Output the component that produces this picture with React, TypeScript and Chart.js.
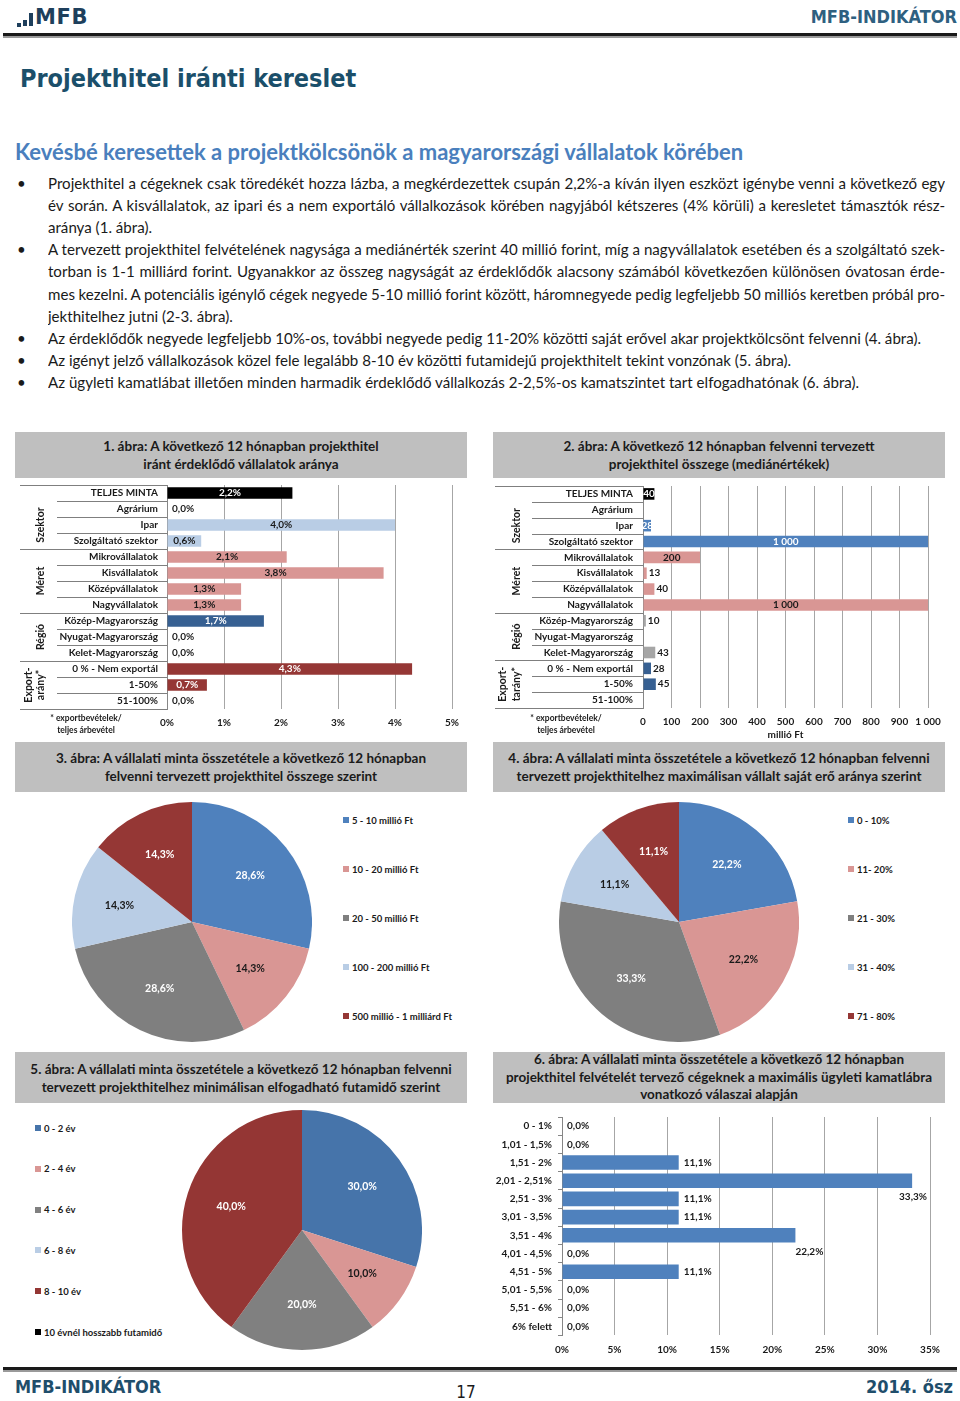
import React, { useEffect, useRef } from 'react';
import { Chart, registerables } from 'chart.js';

Chart.register(...registerables);

const FONT = 'Lato, "Open Sans", "DejaVu Sans", sans-serif';
const HEAD = '"DejaVu Sans Condensed", "DejaVu Sans", sans-serif';
Chart.defaults.font.family = FONT;
Chart.defaults.color = '#1a1a1a';

// ---------------- DATA ----------------
const fig1Categories = ['TELJES MINTA', 'Agrárium', 'Ipar', 'Szolgáltató szektor', 'Mikrovállalatok', 'Kisvállalatok', 'Középvállalatok', 'Nagyvállalatok', 'Közép-Magyarország', 'Nyugat-Magyarország', 'Kelet-Magyarország', '0 % - Nem exportál', '1-50%', '51-100%'];
const fig1Groups = ['total', 'sector', 'sector', 'sector', 'size', 'size', 'size', 'size', 'region', 'region', 'region', 'export', 'export', 'export'];
const fig1Values = [2.2, 0, 4.0, 0.6, 2.1, 3.8, 1.3, 1.3, 1.7, 0, 0, 4.3, 0.7, 0];
const fig1Ticks = [0, 1, 2, 3, 4, 5];
const fig1GroupTitles: Record<string, string[]> = { sector: ['Szektor'], size: ['Méret'], region: ['Régió'], export: ['Export-', 'arány*'] };

const fig2Categories = ['TELJES MINTA', 'Agrárium', 'Ipar', 'Szolgáltató szektor', 'Mikrovállalatok', 'Kisvállalatok', 'Középvállalatok', 'Nagyvállalatok', 'Közép-Magyarország', 'Nyugat-Magyarország', 'Kelet-Magyarország', '0 % - Nem exportál', '1-50%', '51-100%'];
const fig2Groups = ['total', 'sector', 'sector', 'sector', 'size', 'size', 'size', 'size', 'region', 'region', 'region', 'export', 'export', 'export'];
const fig2Values: (number | null)[] = [40, null, 28, 1000, 200, 13, 40, 1000, 10, null, 43, 28, 45, null];
const fig2Ticks = [0, 100, 200, 300, 400, 500, 600, 700, 800, 900, 1000];
const fig2GroupTitles: Record<string, string[]> = { sector: ['Szektor'], size: ['Méret'], region: ['Régió'], export: ['Export-', 'tarány*'] };

const fig3Labels = ['5 - 10 millió Ft', '10 - 20 millió Ft', '20 - 50 millió Ft', '100 - 200 millió Ft', '500 millió - 1 milliárd Ft'];
const fig3Values = [28.6, 14.3, 28.6, 14.3, 14.3];

const fig4Labels = ['0 - 10%', '11- 20%', '21 - 30%', '31 - 40%', '71 - 80%'];
const fig4Values = [22.2, 22.2, 33.3, 11.1, 11.1];

const fig5Labels = ['0 - 2 év', '2 - 4 év', '4 - 6 év', '6 - 8 év', '8 - 10 év', '10 évnél hosszabb futamidő'];
const fig5Values = [30.0, 10.0, 20.0, 0, 40.0, 0];

const fig6Categories = ['0 - 1%', '1,01 - 1,5%', '1,51 - 2%', '2,01 - 2,51%', '2,51 - 3%', '3,01 - 3,5%', '3,51 - 4%', '4,01 - 4,5%', '4,51 - 5%', '5,01 - 5,5%', '5,51 - 6%', '6% felett'];
const fig6Values = [0, 0, 11.1, 33.3, 11.1, 11.1, 22.2, 0, 11.1, 0, 0, 0];
const fig6Ticks = [0, 5, 10, 15, 20, 25, 30, 35];

// ---------------- STYLES ----------------
const fig1Colors: Record<string, string> = { total: '#000000', sector: '#b9cde5', size: '#d99694', region: '#376092', export: '#953735' };
const fig1Inside: Record<string, string> = { total: '#ffffff', sector: '#1a1a1a', size: '#1a1a1a', region: '#ffffff', export: '#ffffff' };
const fig2Colors: Record<string, string> = { total: '#000000', sector: '#4f81bd', size: '#d99694', region: '#a6a6a6', export: '#376092' };
const fig2Inside: Record<string, string> = { total: '#ffffff', sector: '#ffffff', size: '#1a1a1a', region: '#1a1a1a', export: '#ffffff' };
const pieColors = ['#4f81bd', '#d99694', '#7f7f7f', '#b9cde5', '#953735'];
const pieLabelColors = ['#ffffff', '#1a1a1a', '#ffffff', '#1a1a1a', '#ffffff'];
const pie5Colors = ['#4674aa', '#d99694', '#808080', '#b9cde5', '#943634', '#000000'];
const pie5LabelColors = ['#ffffff', '#1a1a1a', '#ffffff', '#1a1a1a', '#ffffff', '#ffffff'];

const fmtPct1 = (v: number) => v.toFixed(1).replace('.', ',') + '%';
const fmtThousands = (v: number) => (v >= 1000 ? `${Math.floor(v / 1000)} ${String(v % 1000).padStart(3, '0')}` : String(v));

type Run = { key: string; from: number; to: number; lines: string[] };
function groupRuns(groups: string[], titles: Record<string, string[]>): Run[] {
  const runs: Run[] = [];
  let start = 0;
  for (let i = 1; i <= groups.length; i++) {
    if (i === groups.length || groups[i] !== groups[start]) {
      runs.push({ key: groups[start], from: start, to: i - 1, lines: titles[groups[start]] || [] });
      start = i;
    }
  }
  return runs;
}

type Box = { left: number; top: number; width: number; height: number };
type Plot = { left: number; right: number; top: number; bottom: number };
type Mode = 'center' | 'outside' | 'zero' | 'below';
type TableSpec = { groupLeft: number; rowLeft: number; groupX: number; lineGap: number; runs: Run[] };

type HBarProps = {
  labels: string[];
  values: (number | null)[];
  colors: string[];
  insideColors: string[];
  ticks: number[];
  tickFmt: (v: number) => string;
  valueFmt: (v: number) => string;
  labelMode: (i: number, v: number, fits: boolean) => Mode;
  outsideGap: number;
  box: Box;
  plot: Plot;
  xAxisHeight: number;
  tickPad: number;
  labelPad: number;
  barPct: number;
  table?: TableSpec;
  xTitle?: string;
  catTicks?: boolean;
};

function HBar(p: HBarProps) {
  const ref = useRef<HTMLCanvasElement>(null);
  useEffect(() => {
    const { box, plot } = p;
    const padB = box.height - plot.bottom - p.xAxisHeight;
    const valuePlugin = {
      id: 'valueLabels',
      afterDatasetsDraw(chart: any) {
        const ctx = chart.ctx;
        const meta = chart.getDatasetMeta(0);
        const area = chart.chartArea;
        ctx.save();
        ctx.font = `bold 10px ${FONT}`;
        ctx.textBaseline = 'middle';
        meta.data.forEach((el: any, i: number) => {
          const v = p.values[i];
          if (v == null) return;
          const text = p.valueFmt(v);
          const w = ctx.measureText(text).width;
          const start = el.base;
          const end = el.x;
          const y = el.y;
          const mode = p.labelMode(i, v, end - start > w + 6);
          if (mode === 'center') {
            ctx.fillStyle = p.insideColors[i];
            ctx.textAlign = 'center';
            ctx.fillText(text, (start + end) / 2, y);
          } else if (mode === 'zero') {
            ctx.fillStyle = '#1a1a1a';
            ctx.textAlign = 'left';
            ctx.fillText(text, start + 5, y);
          } else if (mode === 'outside') {
            ctx.fillStyle = '#1a1a1a';
            ctx.textAlign = 'left';
            ctx.fillText(text, end + p.outsideGap, y);
          } else {
            ctx.fillStyle = '#1a1a1a';
            ctx.textAlign = 'left';
            ctx.fillText(text, Math.min(end, area.right - 3 - w), y + 16);
          }
        });
        ctx.restore();
      },
    };
    const tablePlugin = {
      id: 'catTable',
      afterDraw(chart: any) {
        const t = p.table;
        if (!t) return;
        const ys = chart.scales.y;
        const area = chart.chartArea;
        const ctx = chart.ctx;
        const n = p.labels.length;
        const pitch = (area.bottom - area.top) / n;
        const bounds = [0, ...t.runs.map((r) => r.to + 1)];
        ctx.save();
        ctx.strokeStyle = '#7f7f7f';
        ctx.lineWidth = 1;
        for (let i = 0; i <= n; i++) {
          const raw = i < n ? ys.getPixelForValue(i) - pitch / 2 : ys.getPixelForValue(n - 1) + pitch / 2;
          const yy = Math.round(raw) + 0.5;
          const x0 = bounds.includes(i) ? t.groupLeft : t.rowLeft;
          ctx.beginPath();
          ctx.moveTo(x0, yy);
          ctx.lineTo(area.left, yy);
          ctx.stroke();
        }
        ctx.fillStyle = '#1a1a1a';
        ctx.font = `bold 10.5px ${FONT}`;
        ctx.textAlign = 'center';
        ctx.textBaseline = 'middle';
        t.runs.forEach((g) => {
          const yc = (ys.getPixelForValue(g.from) + ys.getPixelForValue(g.to)) / 2;
          g.lines.forEach((line, k) => {
            const x = t.groupX - (g.lines.length - 1 - k) * t.lineGap;
            ctx.save();
            ctx.translate(x, yc);
            ctx.rotate(-Math.PI / 2);
            ctx.fillText(line, 0, 0);
            ctx.restore();
          });
        });
        ctx.restore();
      },
    };
    const chart = new Chart(ref.current as HTMLCanvasElement, {
      type: 'bar',
      data: {
        labels: p.labels,
        datasets: [{ data: p.values, backgroundColor: p.colors, borderWidth: 0, barPercentage: p.barPct, categoryPercentage: 1 }],
      },
      options: {
        indexAxis: 'y',
        animation: false,
        responsive: false,
        maintainAspectRatio: false,
        events: [],
        layout: { padding: { left: 0, top: plot.top, right: box.width - plot.right, bottom: padB } },
        plugins: { legend: { display: false }, tooltip: { enabled: false } },
        scales: {
          x: {
            type: 'linear',
            min: p.ticks[0],
            max: p.ticks[p.ticks.length - 1],
            afterBuildTicks: (s: any) => {
              s.ticks = p.ticks.map((v) => ({ value: v }));
            },
            afterFit: (s: any) => {
              s.height = p.xAxisHeight;
            },
            ticks: { callback: (v: any) => p.tickFmt(Number(v)), font: { size: 10, weight: 'bold' }, color: '#1a1a1a', padding: p.tickPad, maxRotation: 0, autoSkip: false },
            grid: { color: '#a6a6a6', drawTicks: false, lineWidth: 1 },
            border: { display: false },
            title: p.xTitle
              ? { display: true, text: p.xTitle, font: { size: 10, weight: 'bold' }, color: '#1a1a1a', padding: 0 }
              : { display: false },
          },
          y: {
            afterFit: (s: any) => {
              s.width = plot.left;
            },
            ticks: { autoSkip: false, font: { size: 10, weight: 'bold' }, color: '#1a1a1a', padding: p.labelPad },
            grid: p.catTicks
              ? { display: true, drawOnChartArea: false, drawTicks: true, tickLength: 4, color: '#868686' }
              : { display: false, drawTicks: false },
            border: { display: true, color: '#868686' },
          },
        },
      },
      plugins: [valuePlugin, tablePlugin],
    } as any);
    return () => chart.destroy();
  }, []);
  return (
    <canvas
      ref={ref}
      width={p.box.width}
      height={p.box.height}
      style={{ position: 'absolute', left: p.box.left, top: p.box.top, width: p.box.width, height: p.box.height }}
    />
  );
}

type PieProps = { labels: string[]; values: number[]; colors: string[]; labelColors: string[]; box: Box };

function PieChart(p: PieProps) {
  const ref = useRef<HTMLCanvasElement>(null);
  useEffect(() => {
    const labelPlugin = {
      id: 'pieLabels',
      afterDatasetsDraw(chart: any) {
        const ctx = chart.ctx;
        const meta = chart.getDatasetMeta(0);
        ctx.save();
        ctx.font = `bold 10.5px ${FONT}`;
        ctx.textAlign = 'center';
        ctx.textBaseline = 'middle';
        meta.data.forEach((el: any, i: number) => {
          const v = p.values[i];
          if (!v) return;
          const mid = (el.startAngle + el.endAngle) / 2;
          const r = el.outerRadius * 0.62;
          ctx.fillStyle = p.labelColors[i];
          ctx.fillText(fmtPct1(v), el.x + Math.cos(mid) * r, el.y + Math.sin(mid) * r);
        });
        ctx.restore();
      },
    };
    const chart = new Chart(ref.current as HTMLCanvasElement, {
      type: 'pie',
      data: { labels: p.labels, datasets: [{ data: p.values, backgroundColor: p.colors, borderWidth: 0 }] },
      options: {
        animation: false,
        responsive: false,
        maintainAspectRatio: false,
        events: [],
        layout: { padding: 0 },
        plugins: { legend: { display: false }, tooltip: { enabled: false } },
      },
      plugins: [labelPlugin],
    } as any);
    return () => chart.destroy();
  }, []);
  return (
    <canvas
      ref={ref}
      width={p.box.width}
      height={p.box.height}
      style={{ position: 'absolute', left: p.box.left, top: p.box.top, width: p.box.width, height: p.box.height }}
    />
  );
}

function Legend({ labels, colors, left, top, gap }: { labels: string[]; colors: string[]; left: number; top: number; gap: number }) {
  return (
    <>
      {labels.map((l, i) => (
        <div
          key={l}
          style={{
            position: 'absolute',
            left,
            top: top + i * gap - 7,
            height: 14,
            display: 'flex',
            alignItems: 'center',
            whiteSpace: 'nowrap',
            font: `bold 9.5px ${FONT}`,
            color: '#1a1a1a',
          }}
        >
          <span style={{ display: 'inline-block', width: 6, height: 6, background: colors[i], marginRight: 3 }} />
          {l}
        </div>
      ))}
    </>
  );
}

function TitleBox({ lines, left, top, width, height, lh }: { lines: string[]; left: number; top: number; width: number; height: number; lh: number }) {
  return (
    <div
      style={{
        position: 'absolute',
        left,
        top,
        width,
        height,
        background: '#bfbfbf',
        display: 'flex',
        flexDirection: 'column',
        justifyContent: 'center',
        alignItems: 'center',
        font: `bold 13.5px ${FONT}`,
        color: '#1a1a1a',
      }}
    >
      {lines.map((l) => (
        <div key={l} style={{ lineHeight: `${lh}px`, whiteSpace: 'nowrap' }}>
          {l}
        </div>
      ))}
    </div>
  );
}

const paragraphs = [
  [
    'Projekthitel a cégeknek csak töredékét hozza lázba, a megkérdezettek csupán 2,2%-a kíván ilyen eszközt igénybe venni a következő egy',
    'év során. A kisvállalatok, az ipari és a nem exportáló vállalkozások körében nagyjából kétszeres (4% körüli) a keresletet támasztók rész-',
    'aránya (1. ábra).',
  ],
  [
    'A tervezett projekthitel felvételének nagysága a mediánérték szerint 40 millió forint, míg a nagyvállalatok esetében és a szolgáltató szek-',
    'torban is 1-1 milliárd forint. Ugyanakkor az összeg nagyságát az érdeklődők alacsony számából következően különösen óvatosan érde-',
    'mes kezelni. A potenciális igénylő cégek negyede 5-10 millió forint között, háromnegyede pedig legfeljebb 50 milliós keretben próbál pro-',
    'jekthitelhez jutni (2-3. ábra).',
  ],
  ['Az érdeklődők negyede legfeljebb 10%-os, további negyede pedig 11-20% közötti saját erővel akar projektkölcsönt felvenni (4. ábra).'],
  ['Az igényt jelző vállalkozások közel fele legalább 8-10 év közötti futamidejű projekthitelt tekint vonzónak (5. ábra).'],
  ['Az ügyleti kamatlábat illetően minden harmadik érdeklődő vállalkozás 2-2,5%-os kamatszintet tart elfogadhatónak (6. ábra).'],
];

const BODY_SIZE = 15.1;

function Bullets() {
  const out: React.ReactNode[] = [];
  let idx = 0;
  paragraphs.forEach((para, pi) => {
    para.forEach((line, li) => {
      const yc = 183 + idx * 22.1;
      const last = li === para.length - 1;
      if (li === 0) {
        out.push(
          <div key={`b${pi}`} style={{ position: 'absolute', left: 17, top: yc - 11, lineHeight: '22px', fontSize: BODY_SIZE, fontFamily: FONT, color: '#1a1a1a' }}>
            •
          </div>
        );
      }
      out.push(
        <div
          key={`l${pi}-${li}`}
          style={{
            position: 'absolute',
            left: 48,
            top: yc - 11,
            width: 897,
            height: 22,
            overflow: 'hidden',
            lineHeight: '22px',
            fontSize: BODY_SIZE,
            fontFamily: FONT,
            color: '#1a1a1a',
            wordSpacing: last ? 0 : -2.5,
            textAlign: last ? 'left' : 'justify',
            textAlignLast: last ? 'left' : 'justify',
          } as any}
        >
          {line}
        </div>
      );
      idx++;
    });
  });
  return <>{out}</>;
}

function Footnote({ cx, top }: { cx: number; top: number }) {
  return (
    <div style={{ position: 'absolute', left: cx - 60, top, width: 120, textAlign: 'center', font: `bold 8.5px ${FONT}`, lineHeight: '12px', color: '#1a1a1a' }}>
      <div>* exportbevételek/</div>
      <div>teljes árbevétel</div>
    </div>
  );
}

export default function App() {
  const runs1 = groupRuns(fig1Groups, fig1GroupTitles);
  const runs2 = groupRuns(fig2Groups, fig2GroupTitles);
  return (
    <div style={{ position: 'absolute', left: 0, top: 0, width: 960, height: 1401, background: '#ffffff', overflow: 'hidden' }}>
      {/* Header */}
      <div style={{ position: 'absolute', left: 17, top: 23, width: 4, height: 3.5, background: '#1e3f5c' }} />
      <div style={{ position: 'absolute', left: 23, top: 20, width: 4, height: 6, background: '#1e3f5c' }} />
      <div style={{ position: 'absolute', left: 29, top: 13, width: 4, height: 13, background: '#1e3f5c' }} />
      <div style={{ position: 'absolute', left: 35, top: 7, font: `bold 21px "DejaVu Sans", sans-serif`, lineHeight: '21px', letterSpacing: 0.6, color: '#1e3f5c' }}>MFB</div>
      <div style={{ position: 'absolute', right: 3, top: 7, font: `bold 18px ${HEAD}`, lineHeight: '20px', color: '#2e6080' }}>MFB-INDIKÁTOR</div>
      <div style={{ position: 'absolute', left: 3, top: 33, width: 954, height: 3, background: '#1a1a1a' }} />
      <div style={{ position: 'absolute', left: 3, top: 36, width: 954, height: 1.5, background: '#9a9a9a' }} />

      <div style={{ position: 'absolute', left: 20, top: 64, font: `bold 25px ${HEAD}`, lineHeight: '30px', color: '#1b4f6a' }}>Projekthitel iránti kereslet</div>
      <div style={{ position: 'absolute', left: 15, top: 139, font: `bold 22px ${FONT}`, lineHeight: '26px', color: '#4a7fbd', whiteSpace: 'nowrap' }}>
        Kevésbé keresettek a projektkölcsönök a magyarországi vállalatok körében
      </div>

      <Bullets />

      {/* Figure 1 */}
      <TitleBox lines={['1. ábra: A következő 12 hónapban projekthitel', 'iránt érdeklődő vállalatok aránya']} left={15} top={432} width={452} height={46} lh={18} />
      <HBar
        labels={fig1Categories}
        values={fig1Values}
        colors={fig1Groups.map((g) => fig1Colors[g])}
        insideColors={fig1Groups.map((g) => fig1Inside[g])}
        ticks={fig1Ticks}
        tickFmt={(v) => `${v}%`}
        valueFmt={fmtPct1}
        labelMode={(i, v) => (v === 0 ? 'zero' : 'center')}
        outsideGap={3}
        box={{ left: 0, top: 470, width: 480, height: 272 }}
        plot={{ left: 167, right: 452, top: 11, bottom: 239 }}
        xAxisHeight={20}
        tickPad={8}
        labelPad={9}
        barPct={0.72}
        table={{ groupLeft: 20, rowLeft: 57, groupX: 41, lineGap: 12, runs: runs1.filter((r) => r.key !== 'total') }}
      />
      <Footnote cx={86} top={712} />

      {/* Figure 2 */}
      <TitleBox lines={['2. ábra: A következő 12 hónapban felvenni tervezett', 'projekthitel összege (mediánértékek)']} left={493} top={432} width={452} height={46} lh={18} />
      <HBar
        labels={fig2Categories}
        values={fig2Values}
        colors={fig2Groups.map((g) => fig2Colors[g])}
        insideColors={fig2Groups.map((g) => fig2Inside[g])}
        ticks={fig2Ticks}
        tickFmt={fmtThousands}
        valueFmt={fmtThousands}
        labelMode={(i, v, fits) => (fig2Groups[i] === 'total' || fig2Groups[i] === 'sector' || fits ? 'center' : 'outside')}
        outsideGap={2}
        box={{ left: 480, top: 470, width: 480, height: 272 }}
        plot={{ left: 163, right: 448, top: 9, bottom: 238 }}
        xAxisHeight={33}
        tickPad={8}
        labelPad={10}
        barPct={0.73}
        xTitle="millió Ft"
        table={{ groupLeft: 15, rowLeft: 52, groupX: 37, lineGap: 14, runs: runs2.filter((r) => r.key !== 'total') }}
      />
      <Footnote cx={566} top={712} />

      {/* Figure 3 */}
      <TitleBox lines={['3. ábra: A vállalati minta összetétele a következő 12 hónapban', 'felvenni tervezett projekthitel összege szerint']} left={15} top={742} width={452} height={50} lh={18} />
      <PieChart labels={fig3Labels} values={fig3Values} colors={pieColors} labelColors={pieLabelColors} box={{ left: 72, top: 802, width: 240, height: 240 }} />
      <Legend labels={fig3Labels} colors={pieColors} left={343} top={820} gap={49} />

      {/* Figure 4 */}
      <TitleBox lines={['4. ábra: A vállalati minta összetétele a következő 12 hónapban felvenni', 'tervezett projekthitelhez maximálisan vállalt saját erő aránya szerint']} left={493} top={742} width={452} height={50} lh={18} />
      <PieChart labels={fig4Labels} values={fig4Values} colors={pieColors} labelColors={pieLabelColors} box={{ left: 559, top: 802, width: 240, height: 240 }} />
      <Legend labels={fig4Labels} colors={pieColors} left={848} top={820} gap={49} />

      {/* Figure 5 */}
      <TitleBox lines={['5. ábra: A vállalati minta összetétele a következő 12 hónapban felvenni', 'tervezett projekthitelhez minimálisan elfogadható futamidő szerint']} left={15} top={1052} width={452} height={51} lh={18} />
      <PieChart labels={fig5Labels} values={fig5Values} colors={pie5Colors} labelColors={pie5LabelColors} box={{ left: 182, top: 1110, width: 240, height: 240 }} />
      <Legend labels={fig5Labels} colors={pie5Colors} left={35} top={1128} gap={40.8} />

      {/* Figure 6 */}
      <TitleBox lines={['6. ábra: A vállalati minta összetétele a következő 12 hónapban', 'projekthitel felvételét tervező cégeknek a maximális ügyleti kamatlábra', 'vonatkozó válaszai alapján']} left={493} top={1052} width={452} height={51} lh={17.5} />
      <HBar
        labels={fig6Categories}
        values={fig6Values}
        colors={fig6Values.map(() => '#4f81bd')}
        insideColors={fig6Values.map(() => '#ffffff')}
        ticks={fig6Ticks}
        tickFmt={(v) => `${v}%`}
        valueFmt={fmtPct1}
        labelMode={(i, v) => (v === 0 ? 'zero' : v >= 20 ? 'below' : 'outside')}
        outsideGap={5}
        box={{ left: 480, top: 1105, width: 480, height: 260 }}
        plot={{ left: 82, right: 450, top: 4.6, bottom: 230.4 }}
        xAxisHeight={22}
        tickPad={8.6}
        labelPad={6}
        barPct={0.8}
        catTicks
      />

      {/* Footer */}
      <div style={{ position: 'absolute', left: 3, top: 1367, width: 954, height: 3, background: '#1a1a1a' }} />
      <div style={{ position: 'absolute', left: 3, top: 1370, width: 954, height: 1.5, background: '#9a9a9a' }} />
      <div style={{ position: 'absolute', left: 15, top: 1377, font: `bold 18px ${HEAD}`, lineHeight: '20px', color: '#1f4e6b' }}>MFB-INDIKÁTOR</div>
      <div style={{ position: 'absolute', left: 436, width: 60, textAlign: 'center', top: 1381, font: `17px "Liberation Sans Narrow", "DejaVu Sans Condensed", sans-serif`, lineHeight: '22px', color: '#1a1a1a' }}>17</div>
      <div style={{ position: 'absolute', right: 7, top: 1377, font: `bold 18px ${HEAD}`, lineHeight: '20px', color: '#1f4e6b' }}>2014. ősz</div>
    </div>
  );
}
